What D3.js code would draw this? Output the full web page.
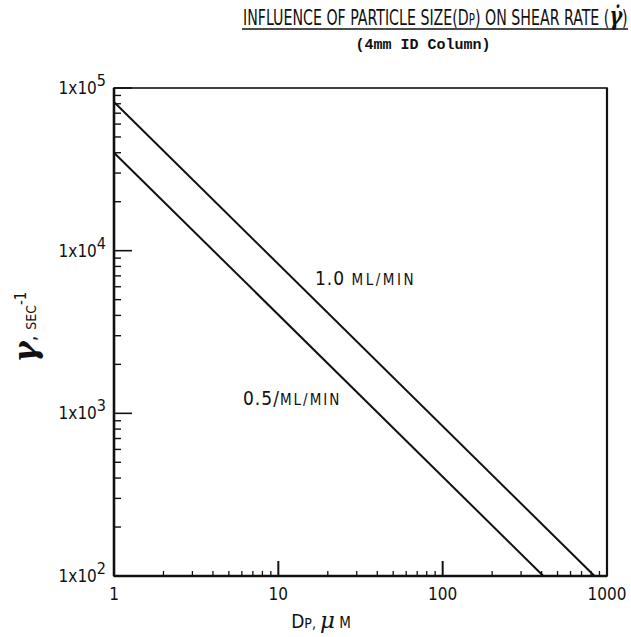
<!DOCTYPE html>
<html><head><meta charset="utf-8">
<script src="https://cdn.jsdelivr.net/npm/d3@7"></script>
<style>body{margin:0;background:#fff}svg{display:block}</style>
</head><body>
<script>
const xTicks = [1, 10, 100, 1000];
const xTickLabels = ["1", "10", "100", "1000"];
const yTicks = [1e2, 1e3, 1e4, 1e5];
const yTickExp = ["2", "3", "4", "5"];
const seriesNames = ["1.0 ", "0.5/"];
const flow10Dp = [1, 840];
const flow10Rate = [82000, 100];
const flow05Dp = [1, 410];
const flow05Rate = [40000, 100];

const W = 631, H = 637;
const svg = d3.select("body").append("svg").attr("width", W).attr("height", H);
const x = d3.scaleLog().domain([1, 1000]).range([114, 607]);
const y = d3.scaleLog().domain([100, 1e5]).range([576, 88]);
const ink = "#111";
const sans = "'DejaVu Sans Condensed','Liberation Sans Narrow','DejaVu Sans',sans-serif";

// frame
svg.append("rect").attr("x", x(1)).attr("y", y(1e5)).attr("width", x(1000)-x(1)).attr("height", y(100)-y(1e5))
  .attr("fill","none").attr("stroke", ink).attr("stroke-width", 1.6);
svg.append("line").attr("x1", x(1)).attr("x2", x(1)).attr("y1", y(1e5)).attr("y2", y(100)).attr("stroke", ink).attr("stroke-width", 2.6);
svg.append("line").attr("x1", x(1000)).attr("x2", x(1000)).attr("y1", y(1e5)).attr("y2", y(100)).attr("stroke", ink).attr("stroke-width", 2.2);
svg.append("line").attr("x1", x(1)).attr("x2", x(1000)).attr("y1", y(100)).attr("y2", y(100)).attr("stroke", ink).attr("stroke-width", 2.4);

// y ticks (inside)
const yMinor = [];
for (let e = 2; e < 5; e++) for (let m = 2; m <= 9; m++) yMinor.push(m*Math.pow(10, e));
svg.append("g").selectAll("line").data(yMinor).join("line")
  .attr("x1", x(1)).attr("x2", x(1)+7).attr("y1", d=>y(d)).attr("y2", d=>y(d)).attr("stroke", ink).attr("stroke-width", 1.4);
svg.append("g").selectAll("line").data([1e3, 1e4, 1e5]).join("line")
  .attr("x1", x(1)).attr("x2", x(1)+18).attr("y1", d=>y(d)).attr("y2", d=>y(d)).attr("stroke", ink).attr("stroke-width", 1.6);

// x ticks (inside)
const xMinor = [];
for (let e = 0; e < 3; e++) for (let m = 2; m <= 9; m++) xMinor.push(m*Math.pow(10, e));
svg.append("g").selectAll("line").data(xMinor).join("line")
  .attr("x1", d=>x(d)).attr("x2", d=>x(d)).attr("y1", y(100)).attr("y2", y(100)-5).attr("stroke", ink).attr("stroke-width", 1.3);
svg.append("g").selectAll("line").data([10, 100]).join("line")
  .attr("x1", d=>x(d)).attr("x2", d=>x(d)).attr("y1", y(100)).attr("y2", y(100)-15).attr("stroke", ink).attr("stroke-width", 2);

// tick labels
svg.append("g").selectAll("text").data(xTicks).join("text")
  .attr("x", d=>x(d)).attr("y", 600).attr("text-anchor","middle")
  .attr("font-family", sans).attr("font-size", 17).attr("fill", ink)
  .text((d,i)=>xTickLabels[i]);
const yl = svg.append("g").selectAll("text").data(yTicks).join("text")
  .attr("x", 106).attr("y", d=>y(d)+6).attr("text-anchor","end")
  .attr("font-family", sans).attr("font-size", 17).attr("fill", ink);
yl.append("tspan").text("1x10");
yl.append("tspan").attr("dy", -8).attr("font-size", 16).text((d,i)=>yTickExp[i]);

// data lines
const line = d3.line().x(d=>x(d[0])).y(d=>y(d[1]));
const s1 = flow10Dp.map((d,i)=>[d, flow10Rate[i]]);
const s2 = flow05Dp.map((d,i)=>[d, flow05Rate[i]]);
[s1, s2].forEach(s => svg.append("path").attr("d", line(s)).attr("fill","none").attr("stroke", ink).attr("stroke-width", 2));

// series labels
function seriesLabel(tx, ty, parts) {
  const t = svg.append("text").attr("x", tx).attr("y", ty).attr("font-family", sans).attr("fill", ink);
  parts.forEach(p => t.append("tspan").attr("font-size", p[1]).attr("letter-spacing", p[2]||0).text(p[0]));
}
seriesLabel(315, 285, [[seriesNames[0], 19, 1], ["ML/MIN", 15, 2.5]]);
seriesLabel(243, 405, [[seriesNames[1], 19, 1], ["ML/MIN", 15, 2]]);

// title
const tg = svg.append("g");
const title = tg.append("text").attr("x", 0).attr("y", 0)
  .attr("font-family", sans).attr("font-size", 18).attr("fill", ink);
title.append("tspan").text("INFLUENCE OF PARTICLE SIZE(D");
title.append("tspan").attr("font-size", 13).text("P");
title.append("tspan").text(") ON SHEAR RATE (");
title.append("tspan").attr("font-style","italic").attr("font-weight","bold").attr("font-size", 22).attr("font-family","'DejaVu Serif',serif").text("γ̇");
title.append("tspan").text(")");
const tw = title.node().getComputedTextLength();
tg.attr("transform", `translate(243,24.5) scale(${385/tw},1.22)`);
svg.append("line").attr("x1", 242).attr("x2", 628).attr("y1", 29).attr("y2", 29).attr("stroke", ink).attr("stroke-width", 1.3);
svg.append("text").attr("x", 423).attr("y", 49).attr("text-anchor","middle")
  .attr("font-family", "'Liberation Mono','DejaVu Sans Mono',monospace").attr("font-size", 15).attr("font-weight","bold").attr("fill", ink)
  .text("(4mm ID Column)");

// axis labels
const xl = svg.append("text").attr("x", 321).attr("y", 628).attr("text-anchor","middle")
  .attr("font-family", sans).attr("font-size", 19).attr("fill", ink);
xl.append("tspan").text("D");
xl.append("tspan").attr("font-size", 14).text("P, ");
xl.append("tspan").attr("font-style","italic").attr("font-size", 23).attr("font-family","'DejaVu Serif',serif").text("μ");
xl.append("tspan").attr("font-size", 15).text(" M");

const ylab = svg.append("text").attr("transform", "translate(36,327) rotate(-90)").attr("text-anchor","middle")
  .attr("font-family", sans).attr("fill", ink);
ylab.append("tspan").attr("font-size", 32).attr("font-style","italic").attr("font-weight","bold").attr("font-family","'DejaVu Serif',serif").text("γ");
ylab.append("tspan").attr("font-size", 20).text(", ");
ylab.append("tspan").attr("font-size", 14).text("SEC");
ylab.append("tspan").attr("font-size", 15).attr("dy", -10).text("-1");
</script>
</body></html>
